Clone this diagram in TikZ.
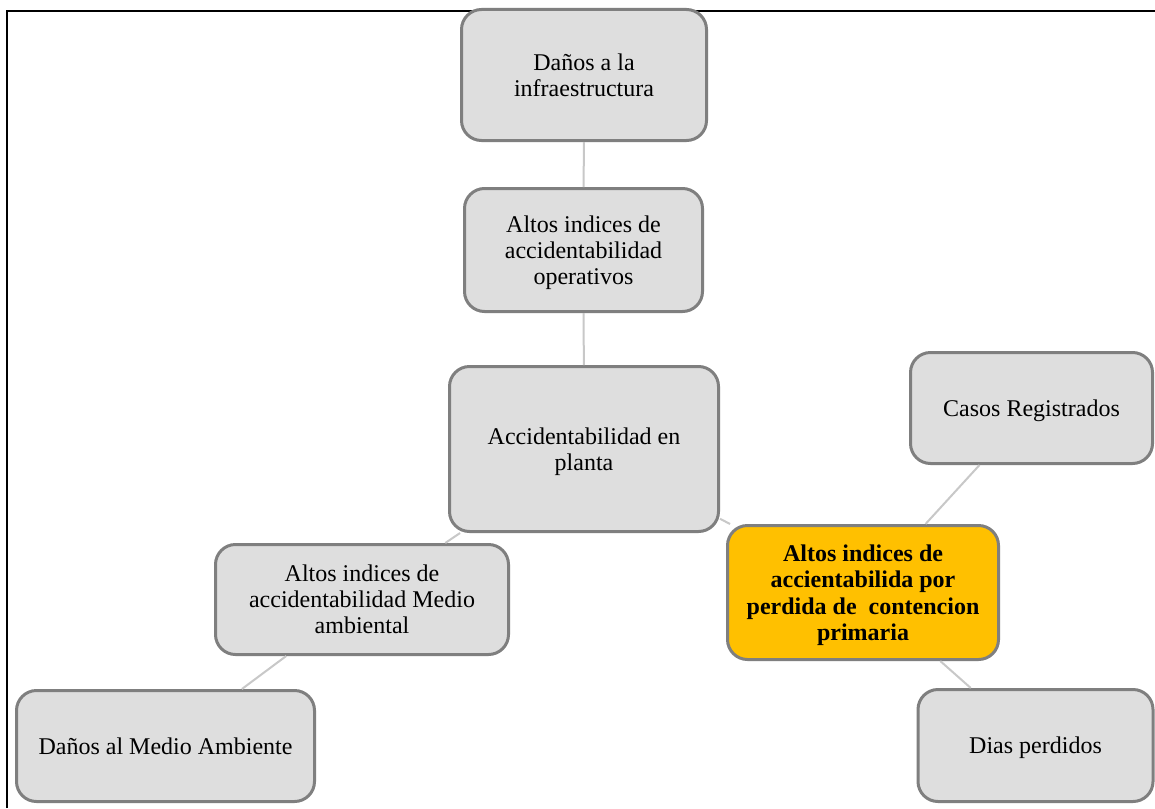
\documentclass[tikz,border=0pt]{standalone}
\usepackage{fontspec}
\setmainfont{Liberation Serif}
\definecolor{boxfill}{HTML}{DEDEDE}
\definecolor{boxline}{HTML}{7F7F7F}
\definecolor{linkcol}{HTML}{C8C8C8}
\definecolor{hilite}{HTML}{FFC000}
\begin{document}
\begin{tikzpicture}[x=1pt,y=-1pt,
  card/.style={draw=boxline, line width=3pt, fill=boxfill, rounded corners=20pt,
    align=center, inner sep=4pt, text depth=-3pt, font=\fontsize{24}{26}\selectfont},
  hot/.style={card, fill=hilite, font=\fontsize{24}{26.5}\selectfont\bfseries},
  link/.style={draw=linkcol, line width=2pt}]
\useasboundingbox (0,0) rectangle (1155,808);
\fill[white] (0,0) rectangle (1155,808);
% frame
\draw[black, line width=2.5pt] (7,808) -- (7,11) -- (1160,11);
% nodes
\node[card, minimum width=245pt, minimum height=131pt] (infra) at (584,75) {Daños a la\\infraestructura};
\node[card, minimum width=238pt, minimum height=123pt] (oper) at (583.5,250) {Altos indices de\\accidentabilidad\\operativos};
\node[card, minimum width=269pt, minimum height=165pt] (planta) at (584,449) {Accidentabilidad en\\planta};
\node[card, minimum width=242pt, minimum height=111pt] (casos) at (1031.5,408) {Casos Registrados};
\node[hot, minimum width=271pt, minimum height=134pt] (cont) at (863,592.5) {Altos indices de\\accientabilida por\\perdida de\ \ contencion\\primaria};
\node[card, minimum width=293pt, minimum height=110pt] (medio) at (362,599.5) {Altos indices de\\accidentabilidad Medio\\ambiental};
\node[card, minimum width=298pt, minimum height=111pt] (danos) at (165.5,746) {Daños al Medio Ambiente};
\node[card, minimum width=235pt, minimum height=112pt] (dias) at (1035.5,745.5) {Dias perdidos};
% connectors
\draw[link] (infra) -- (oper);
\draw[link] (oper) -- (planta);
\draw[link] (planta) -- (medio);
\draw[link] (planta) -- (cont);
\draw[link] (casos) -- (cont);
\draw[link] (cont) -- (dias);
\draw[link] (medio) -- (danos);
\end{tikzpicture}
\end{document}
